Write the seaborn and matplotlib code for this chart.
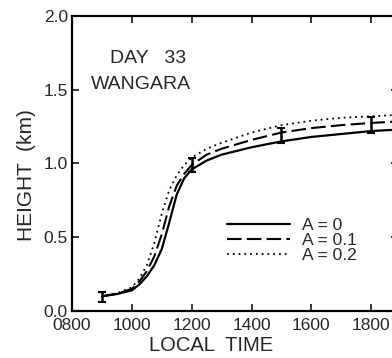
import numpy as np
import pandas as pd
import matplotlib
matplotlib.use("Agg")
import matplotlib.pyplot as plt
import seaborn as sns

# local time (hhmm) and boundary layer height (km)
times = [900, 950, 1000, 1025, 1050, 1075, 1100, 1125, 1150, 1175, 1200,
         1250, 1300, 1400, 1500, 1600, 1700, 1800, 1890]
h_a0 = [0.10, 0.115, 0.14, 0.18, 0.235, 0.31, 0.42, 0.60, 0.79, 0.90, 0.96,
        1.02, 1.06, 1.11, 1.15, 1.18, 1.20, 1.22, 1.23]
h_a01 = [0.10, 0.117, 0.15, 0.20, 0.27, 0.37, 0.52, 0.71, 0.85, 0.93, 0.99,
         1.06, 1.10, 1.16, 1.21, 1.24, 1.26, 1.275, 1.285]
h_a02 = [0.10, 0.12, 0.16, 0.22, 0.31, 0.46, 0.66, 0.82, 0.92, 0.99, 1.04,
         1.10, 1.14, 1.21, 1.26, 1.29, 1.31, 1.32, 1.33]

# observations with error bars
obs_time = [900, 1200, 1500, 1800]
obs_h = [0.095, 0.99, 1.19, 1.26]
obs_err = [0.035, 0.05, 0.05, 0.055]

sns.set_style("ticks")
plt.rcParams['font.family'] = ['Liberation Sans', 'DejaVu Sans']

fig = plt.figure(figsize=(3.92, 3.58), dpi=100)
ax = fig.add_axes([0.1837, 0.1313, 0.832, 0.824])

df = pd.DataFrame({'time': times, 'A=0': h_a0, 'A=0.1': h_a01, 'A=0.2': h_a02})
sns.lineplot(data=df, x='time', y='A=0', ax=ax, color='black', lw=1.6,
             label='A = 0')
sns.lineplot(data=df, x='time', y='A=0.1', ax=ax, color='black', lw=1.5,
             dashes=(7, 2.5), label='A = 0.1')
sns.lineplot(data=df, x='time', y='A=0.2', ax=ax, color='black', lw=1.3,
             dashes=(1, 2.2), label='A = 0.2')
ax.errorbar(obs_time, obs_h, yerr=obs_err, fmt='none', ecolor='black',
            elinewidth=1.8, capsize=3, capthick=1.5)

ax.set_xlim(800, 1890)
ax.set_ylim(0, 2.0)
ax.set_xticks([800, 1000, 1200, 1400, 1600, 1800])
ax.set_xticklabels(['0800', '1000', '1200', '1400', '1600', '1800'])
ax.set_yticks([0, 0.5, 1.0, 1.5, 2.0])
ax.set_yticklabels(['0.0', '0.5', '1.0', '1.5', '2.0'])
ax.tick_params(direction='in', length=5, width=1.3, labelsize=12.5,
               top=True, right=True)
ax.tick_params(axis='x', pad=5)
ax.tick_params(axis='y', pad=3)
for s in ax.spines.values():
    s.set_linewidth(1.6)
    s.set_color('black')

ax.set_xlabel('LOCAL  TIME', fontsize=14.5, labelpad=0)
ax.xaxis.set_label_coords(0.426, -0.085)
ax.set_ylabel('HEIGHT  (km)', fontsize=15)
ax.yaxis.set_label_coords(-0.11, 0.46)

ax.text(0.117, 0.84, 'DAY   33', transform=ax.transAxes, fontsize=14,
        va='baseline')
ax.text(0.058, 0.753, 'WANGARA', transform=ax.transAxes, fontsize=14,
        va='baseline')

ax.legend(loc='upper left', bbox_to_anchor=(0.45, 0.345), frameon=False,
          handlelength=3.6, handletextpad=0.7, labelspacing=0.0,
          fontsize=12.5, borderpad=0)

fig.savefig('out.png', dpi=100)
